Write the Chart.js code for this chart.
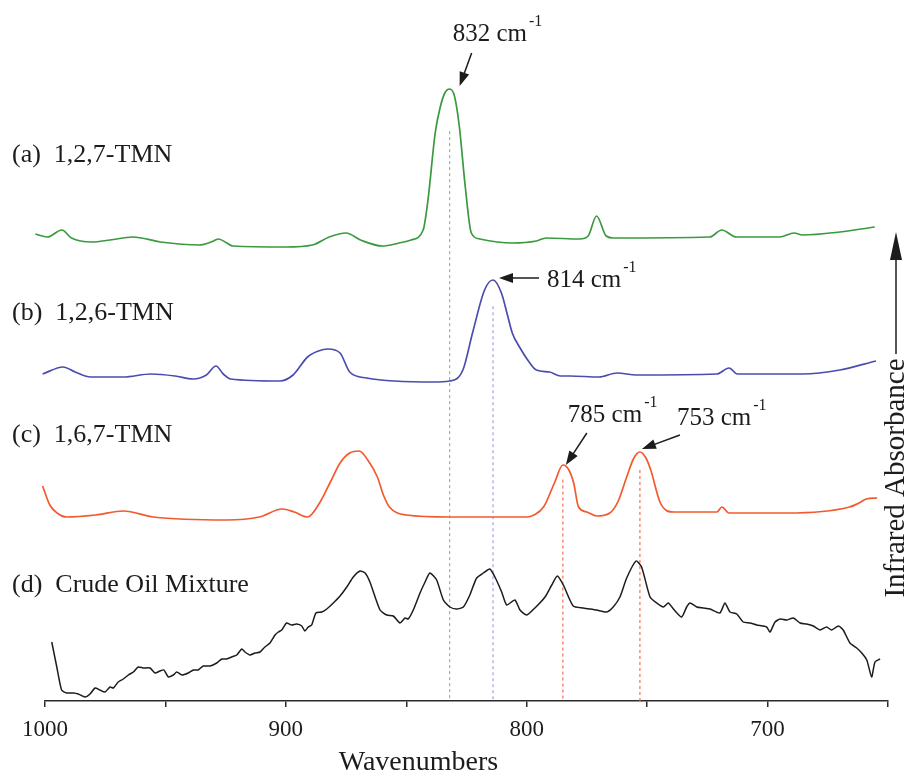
<!DOCTYPE html>
<html lang="en">

<head>
    <meta charset="UTF-8">
    <title>Espectros IR - TMN</title>
    <script src="https://cdn.jsdelivr.net/npm/chart.js"></script>
    <style>
        body {
            margin: 0;
            background: #fff;
        }

        .container {
            width: 909px;
            height: 775px;
        }
    </style>
</head>

<body>
    <div class="container">
        <canvas id="GraficoIR"></canvas>
    </div>

    <script>
        // (a) 1,2,7-TMN: wavenumber (cm-1) and absorbance
        const wnA = [1004, 999, 993, 989, 980.5, 973, 963.5, 952, 936, 930, 928, 924.5, 922, 900, 889, 882, 875, 869, 860, 853,
            848, 843, 841, 838, 836, 834, 832, 830, 828, 825.5, 823, 819.5, 806, 796, 792, 778, 774.5, 771, 767, 764,
            724, 719, 713, 695, 689, 685.5, 670, 655.5];
        const absA = [1.7, 1.4, 2.1, 1.3, 0.9, 1.1, 1.4, 0.9, 0.6, 1.0, 1.2, 0.8, 0.5, 0.4, 0.6, 1.4, 1.8, 1.1, 0.5, 0.8,
            1.1, 2.1, 5.1, 11.8, 14.3, 15.8, 16.2, 15.5, 12.5, 6.4, 1.8, 1.2, 0.8, 1.0, 1.3, 1.2, 1.5, 3.5, 1.5, 1.3,
            1.4, 2.1, 1.4, 1.4, 1.8, 1.6, 1.9, 2.4];

        // (b) 1,2,6-TMN
        const wnB = [1001, 992.5, 987.5, 981, 967.5, 956, 946, 938.5, 933, 929, 926, 923, 902.5, 897, 891, 886.5, 882.5, 877.5, 873.5, 866.5,
            839, 832, 826.5, 822.5, 817.5, 814, 810.5, 808, 806, 803, 799, 796, 790.5, 786, 782, 770, 762.5, 754.5, 721, 716,
            712.5, 685.5, 670, 655];
        const absB = [0.7, 1.4, 0.9, 0.4, 0.4, 0.7, 0.5, 0.2, 0.6, 1.5, 0.7, 0.2, 0.0, 0.6, 2.4, 3.0, 3.2, 2.8, 0.9, 0.3,
            -0.1, 0.0, 1.1, 4.8, 9.1, 10.1, 8.8, 6.6, 4.8, 3.4, 1.9, 1.1, 0.9, 0.5, 0.5, 0.4, 0.8, 0.6, 0.7, 1.3,
            0.7, 0.7, 1.1, 2.0];

        // (c) 1,6,7-TMN
        const wnC = [1001, 998, 995, 991, 979, 967.5, 955, 924.5, 911, 901.5, 896.5, 891, 886, 881.5, 877.5, 873.5, 869.5, 866, 862, 859.5,
            857, 850, 832, 800, 797, 793, 788.5, 785, 782.5, 780.5, 778.5, 775, 771, 765.5, 762, 758.5, 755.5, 753, 750.5, 748.5,
            744.5, 739, 721, 719, 716, 692, 666, 662, 659, 654.5];
        const absC = [3.5, 1.6, 0.8, 0.4, 0.6, 1.0, 0.4, 0.1, 0.4, 1.2, 0.9, 0.4, 1.8, 3.9, 5.8, 6.8, 7.0, 6.1, 4.4, 2.6,
            1.4, 0.6, 0.4, 0.4, 0.6, 1.4, 3.8, 5.6, 5.1, 3.8, 1.4, 0.9, 0.5, 0.8, 2.0, 4.4, 6.3, 6.9, 6.3, 5.1,
            1.8, 0.9, 0.9, 1.4, 0.8, 0.8, 1.4, 1.8, 2.2, 2.3];

        // (d) crude oil mixture
        const wnD = [997.2, 995.1, 993.1, 991, 988.2, 986.2, 983.4, 981.3, 979.2, 977.2, 975.1, 973, 971.6, 969.6, 967.5, 965.4, 963.3, 961.3, 959.2, 956.4,
            954.3, 952.3, 950.6, 948.8, 946.7, 945.3, 943.2, 940.5, 938.4, 936.4, 934.3, 931.5, 928.7, 926.6, 924.6, 922.5, 920.4, 918.3, 917, 914.9,
            912.8, 910.7, 908.7, 906.6, 904.5, 903.1, 901.7, 899.7, 897.6, 895.5, 893.4, 892.1, 890.7, 889.3, 887.5, 885.1, 883, 880.3, 877.5, 874.7,
            872, 869.2, 867.1, 865.1, 860.9, 858.1, 855.4, 852.6, 850.5, 849.2, 847.1, 844.3, 842.2, 840.2, 837.4, 834.6, 831.9, 829.1, 826.3, 823.6,
            820.8, 818, 815.3, 813.2, 810.4, 808.3, 804.9, 802.8, 800, 796.6, 792.4, 789.6, 787.3, 784.8, 780.7, 776.5, 771, 766.8, 764.1, 761.3,
            758.5, 754.6, 752.3, 748.8, 746, 743.3, 741.2, 739.1, 735.7, 733.6, 732.2, 729.4, 726.7, 723.9, 719.8, 717.7, 715.6, 712.8, 710.1, 707.3,
            704.5, 700.4, 699, 696.9, 694.8, 692.1, 689.3, 686.5, 683.8, 681, 678.2, 675.5, 673.4, 670.6, 668.6, 665.8, 663, 660.9, 658.8, 656.8,
            655.4, 653.3];
        const absD = [5.9, 3.4, 1.1, 0.8, 0.8, 0.7, 0.4, 0.7, 1.3, 1.1, 0.9, 1.4, 1.3, 1.9, 2.2, 2.6, 2.9, 3.4, 3.3, 3.3,
            2.8, 3.0, 3.1, 2.4, 2.6, 2.9, 2.6, 2.8, 3.1, 3.1, 3.5, 3.5, 3.8, 4.2, 4.2, 4.4, 4.6, 5.2, 4.9, 4.6,
            4.8, 4.9, 5.4, 5.8, 6.6, 6.9, 7.1, 7.8, 7.6, 7.7, 7.5, 7.0, 7.4, 7.6, 8.8, 8.9, 9.2, 9.8, 10.5, 11.4,
            12.4, 13.0, 12.8, 11.9, 9.1, 8.6, 8.5, 7.8, 8.3, 8.2, 9.1, 10.8, 11.9, 12.8, 12.1, 10.1, 9.4, 9.2, 9.4, 10.6,
            12.3, 12.8, 13.2, 12.4, 10.9, 9.6, 10.1, 9.1, 8.6, 9.3, 10.4, 11.6, 12.5, 11.6, 9.5, 9.3, 9.1, 8.9, 9.4, 10.4,
            12.3, 14.0, 13.4, 10.4, 9.8, 9.4, 9.8, 9.2, 8.4, 9.4, 9.8, 9.4, 9.3, 9.2, 8.8, 9.8, 8.9, 8.7, 7.9, 7.8,
            7.6, 7.4, 6.9, 7.9, 8.2, 8.1, 8.3, 7.8, 7.7, 7.5, 7.1, 7.4, 7.1, 7.5, 7.1, 5.8, 5.3, 4.8, 4.1, 2.4,
            3.9, 4.2];

        // vertical shift of each spectrum
        const offsets = [45, 32, 18, 0];
        const nomes = ['(a)  1,2,7-TMN', '(b)  1,2,6-TMN', '(c)  1,6,7-TMN', '(d)  Crude Oil Mixture'];
        const cores = ['#3a9a3e', '#4a4cae', '#f25a2e', '#1c1c1c'];
        const coresTracejado = ['#7cc87c', '#a4a4e4', '#f27050', '#f27050'];

        // marked bands: wavenumber and which spectrum they belong to
        const picoWn = [832, 814, 785, 753];
        const picoSerie = [0, 1, 2, 2];

        // x axis ticks: labels every 100, minor ticks every 50
        const xMin = 650, xMax = 1000, xPasso = 50;

        const series = [[wnA, absA], [wnB, absB], [wnC, absC], [wnD, absD]];

        function pontos(wn, abs, off) {
            return wn.map((w, i) => ({ x: w, y: abs[i] + off }));
        }

        function alturaPico(k) {
            const s = picoSerie[k];
            const idx = series[s][0].indexOf(picoWn[k]);
            return series[s][1][idx];
        }

        const datasets = series.map((s, i) => ({
            label: nomes[i],
            data: pontos(s[0], s[1], offsets[i]),
            borderColor: cores[i],
            borderWidth: i === 3 ? 1.5 : 1.7,
            pointRadius: 0,
            tension: i === 3 ? 0.2 : 0.4,
            cubicInterpolationMode: i === 3 ? 'default' : 'monotone',
            clip: false
        }));

        // dashed drop lines from the marked bands down to the axis
        picoWn.forEach((w, k) => {
            const s = picoSerie[k];
            datasets.push({
                label: 'linha ' + w,
                data: [{ x: w, y: offsets[s] + alturaPico(k) * 0.74 }, { x: w, y: 0 }],
                borderColor: coresTracejado[k],
                borderWidth: 1.2,
                borderDash: [3, 3],
                pointRadius: 0,
                order: 10
            });
        });

        function seta(ctx, x0, y0, x1, y1, cab, larg) {
            const a = Math.atan2(y1 - y0, x1 - x0);
            ctx.beginPath();
            ctx.moveTo(x0, y0);
            ctx.lineTo(x1 - Math.cos(a) * cab * 0.8, y1 - Math.sin(a) * cab * 0.8);
            ctx.stroke();
            ctx.beginPath();
            ctx.moveTo(x1, y1);
            ctx.lineTo(x1 - cab * Math.cos(a) + larg * Math.sin(a), y1 - cab * Math.sin(a) - larg * Math.cos(a));
            ctx.lineTo(x1 - cab * Math.cos(a) - larg * Math.sin(a), y1 - cab * Math.sin(a) + larg * Math.cos(a));
            ctx.closePath();
            ctx.fill();
        }

        // label placement relative to each band maximum (pixels)
        const rotulos = [
            { ponta: [10, -3], cauda: [22, -36], texto: [3, -55] },
            { ponta: [6, -2], cauda: [46, -2], texto: [54, 0] },
            { ponta: [3, 0], cauda: [24, -32], texto: [5, -50] },
            { ponta: [2, -3], cauda: [40, -17], texto: [37, -34] }
        ];
        const nomeY = [155, 313, 435, 585];

        const anotacoes = {
            id: 'anotacoes',
            afterDatasetsDraw(chart) {
                const { ctx, chartArea, scales } = chart;
                const x = scales.x, y = scales.y;
                ctx.save();
                ctx.fillStyle = '#1c1c1c';
                ctx.strokeStyle = '#1c1c1c';
                ctx.lineWidth = 1.5;
                ctx.textBaseline = 'middle';

                ctx.font = '26px "Liberation Serif"';
                nomes.forEach((n, i) => ctx.fillText(n, 12, nomeY[i]));

                picoWn.forEach((w, k) => {
                    const s = picoSerie[k];
                    const px = x.getPixelForValue(w);
                    const py = y.getPixelForValue(offsets[s] + alturaPico(k));
                    const r = rotulos[k];
                    seta(ctx, px + r.cauda[0], py + r.cauda[1], px + r.ponta[0], py + r.ponta[1], 14, 5);
                    ctx.font = '25px "Liberation Serif"';
                    const t = w + ' cm';
                    const tx = px + r.texto[0], ty = py + r.texto[1];
                    ctx.fillText(t, tx, ty);
                    const larg = ctx.measureText(t).width;
                    ctx.font = '16px "Liberation Serif"';
                    ctx.fillText('-1', tx + larg + 2, ty - 12);
                });

                // axis title
                ctx.font = '28px "Liberation Serif"';
                ctx.textAlign = 'center';
                ctx.fillText('Wavenumbers', chartArea.left + chartArea.width * 0.443, 763);

                // vertical quantity label with arrow
                const xr = chartArea.right + 8;
                ctx.save();
                ctx.translate(xr, 478);
                ctx.rotate(-Math.PI / 2);
                ctx.font = '29px "Liberation Serif"';
                ctx.fillText('Infrared Absorbance', 0, 0);
                ctx.restore();
                seta(ctx, xr, 354, xr, 232, 28, 6);

                ctx.restore();
            }
        };

        const grafico = document.getElementById('GraficoIR');
        new Chart(grafico, {
            type: 'line',
            data: { datasets: datasets },
            options: {
                responsive: true,
                maintainAspectRatio: false,
                animation: false,
                layout: { padding: { left: 45, right: 21, top: 11, bottom: 0 } },
                plugins: {
                    legend: { display: false },
                    tooltip: { enabled: false }
                },
                scales: {
                    x: {
                        type: 'linear',
                        reverse: true,
                        min: xMin,
                        max: xMax,
                        afterFit(scale) { scale.height = 74; },
                        border: { display: true, color: '#2a2a2a', width: 1.5 },
                        grid: {
                            drawOnChartArea: false,
                            drawTicks: true,
                            tickLength: 6,
                            color: '#2a2a2a',
                            lineWidth: 1.5
                        },
                        ticks: {
                            stepSize: xPasso,
                            autoSkip: false,
                            maxRotation: 0,
                            padding: 9,
                            color: '#1c1c1c',
                            font: { family: 'Liberation Serif', size: 23 },
                            callback: (v) => (v % 100 === 0 ? v : '')
                        }
                    },
                    y: {
                        display: false,
                        min: 0,
                        max: 69
                    }
                }
            },
            plugins: [anotacoes]
        });
    </script>
</body>

</html>
